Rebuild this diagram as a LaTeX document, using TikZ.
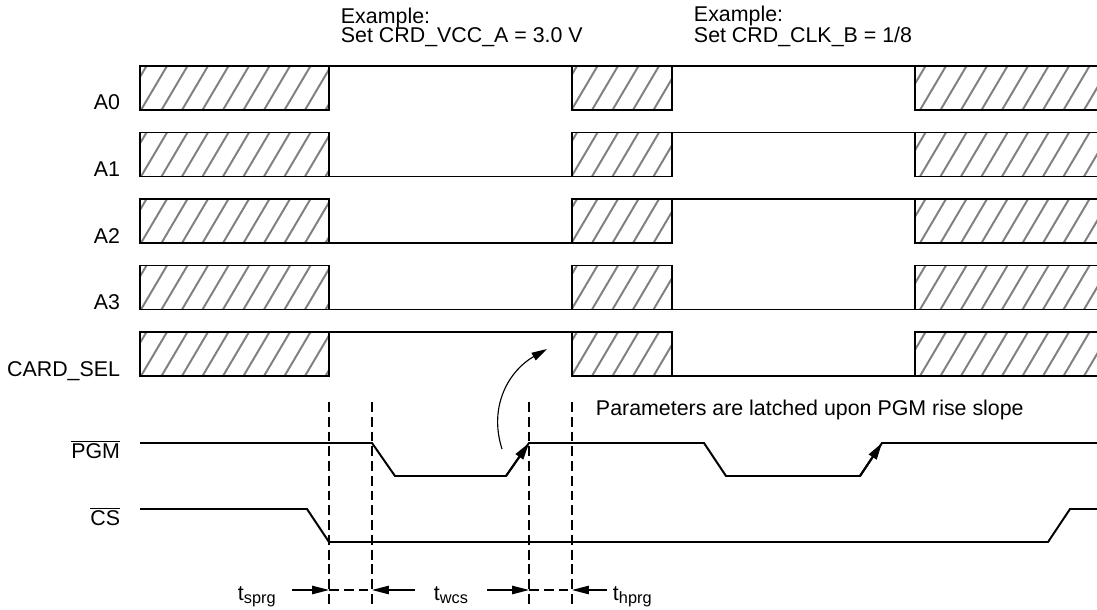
\documentclass[tikz,border=0pt]{standalone}
\usepackage{fontspec}
\setmainfont{Liberation Sans}
\usetikzlibrary{arrows.meta}

\newcommand{\tsub}[1]{t\raisebox{-2.5pt}{\fontsize{11.6pt}{11pt}\selectfont #1}}

\begin{document}
\begin{tikzpicture}[x=0.025cm, y=-0.025cm, line width=1.4pt,
    font=\fontsize{15.2pt}{14pt}\selectfont]

    \tikzset{siglabel/.style={anchor=base east, inner sep=0pt}};
    \tikzset{note/.style={anchor=base west, inner sep=0pt, align=left}};
    \tikzset{hatch/.style={line width=1.4pt, black!50}};
    \tikzset{marker/.style={line width=0.8pt, dash pattern=on 7pt off 3.5pt}};
    \tikzset{dim/.style={line width=0.8pt, -{Triangle[length=12pt, width=6pt]}}};

    \useasboundingbox (0,0) rectangle (1097,610);

    %%%%%%%%%%%%%%%%%%%%%%%%%%
    % address and card lines %
    %%%%%%%%%%%%%%%%%%%%%%%%%%
    \foreach \y/\name/\p/\q [count=\i] in {66/A0/0/0, 132.5/A1/44/0,
        199/A2/44/0, 265.5/A3/44/44, 332/{CARD\_SEL}/0/44} {
      \node [siglabel] (sig\i) at (121, \y+44) {\name};
      \foreach \xl/\xr in {140/329, 572/672, 915/1097} {
        \begin{scope}
          \clip (\xl, \y) rectangle (\xr, \y+44);
          \foreach \h in {100, 120.5, ..., 1100}
            \draw [hatch] (\h, \y+44) -- ++(26, -44);
        \end{scope}
      }
      \draw (140, \y) rectangle (329, \y+44);
      \draw (572, \y) rectangle (672, \y+44);
      \draw (1097, \y) -- (915, \y) -- (915, \y+44) -- (1097, \y+44);
      \draw (329, \y+\p) -- (572, \y+\p);
      \draw (672, \y+\q) -- (915, \y+\q);
    }

    % base of a two line note is its last line
    \node [note] (ex1) at (340, 43) {Example:\\Set CRD\_VCC\_A = 3.0 V};
    \node [note] (ex2) at (693, 43) {Example:\\Set CRD\_CLK\_B = 1/8};

    %%%%%%%%%%%%%%%%%
    % strobes       %
    %%%%%%%%%%%%%%%%%
    \node [siglabel] (pgm) at (121, 458) {$\overline{\mbox{PGM}}$};
    \node [siglabel] (cs) at (121, 525) {$\overline{\mbox{CS}}$};

    \coordinate (rise1a) at (506, 476);
    \coordinate (rise1b) at (529, 443);
    \coordinate (rise2a) at (860, 476);
    \coordinate (rise2b) at (882, 443);

    \draw (140, 443) -- (372, 443) -- (395, 476) -- (rise1a) -- (rise1b)
      -- (704, 443) -- (726, 476) -- (rise2a) -- (rise2b) -- (1097, 443);
    \draw [-{Triangle[length=12pt, width=6.5pt]}] (rise1a) -- (rise1b);
    \draw [-{Triangle[length=12pt, width=6.5pt]}] (rise2a) -- (rise2b);

    \draw (140, 509) -- (307, 509) -- (329, 542) -- (1048, 542) -- (1070, 509)
      -- (1097, 509);

    \node [note] (latch) at (595, 415) {Parameters are latched upon PGM rise slope};

    \coordinate (latchfrom) at (502, 449);
    \coordinate (latchto) at (547, 349);
    \draw [line width=0.8pt, -{Triangle[length=11pt, width=6pt]}]
      (latchfrom) .. controls (488, 405) and (510, 370) .. (latchto);

    %%%%%%%%%%%%%%%%%
    % timings       %
    %%%%%%%%%%%%%%%%%
    \foreach \x in {329, 372, 529, 572}
      \draw [marker] (\x, 402) -- (\x, 604);

    \coordinate (m1) at (329, 590);
    \coordinate (m2) at (372, 590);
    \coordinate (m3) at (529, 590);
    \coordinate (m4) at (572, 590);

    \node [note] (tsprg) at (237, 600) {\tsub{sprg}};
    \node [note] (twcs) at (433, 600) {\tsub{wcs}};
    \node [note] (thprg) at (612, 600) {\tsub{hprg}};

    \draw [dim] (292, 590) -- (m1);
    \draw [dim] (415, 590) -- (m2);
    \draw [dim] (487, 590) -- (m3);
    \draw [dim] (607, 590) -- (m4);
    \draw [marker] (m1) -- (m2);
    \draw [marker] (m3) -- (m4);

  \end{tikzpicture}
\end{document}
